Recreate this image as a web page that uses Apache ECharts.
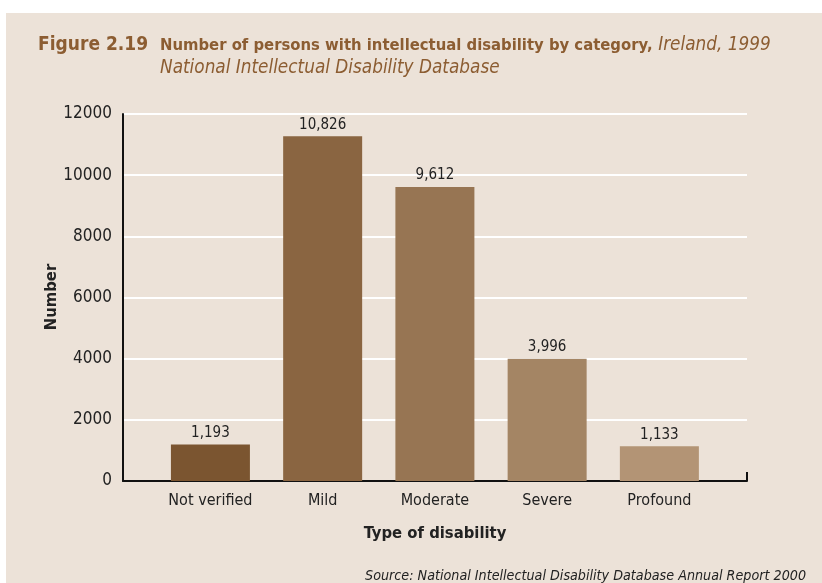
<!DOCTYPE html>
<html>
<head>
<meta charset="utf-8">
<script src="https://cdn.jsdelivr.net/npm/echarts@6/dist/echarts.min.js"></script>
<style>
  html, body { margin: 0; padding: 0; background: #ffffff; }
  #wrap { position: relative; width: 822px; height: 583px; background: #ffffff; overflow: hidden; }
  #bg { position: absolute; left: 6px; top: 13px; right: 0; bottom: 0; background: #ECE2D8; }
  #chart { position: absolute; left: 0; top: 0; width: 822px; height: 583px; }
</style>
</head>
<body>
<div id="wrap"><div id="bg"></div><div id="chart"></div></div>
<script>
// ---- data ----
const categories = ['Not verified', 'Mild', 'Moderate', 'Severe', 'Profound'];
// bar heights as drawn in the reference
const barHeights = [1193, 11270, 9612, 3996, 1133];
// value labels as printed in the reference
const valueLabels = ['1,193', '10,826', '9,612', '3,996', '1,133'];
const yTickValues = [0, 2000, 4000, 6000, 8000, 10000, 12000];

const barColors = ['#7B5530', '#8A6541', '#977553', '#A48564', '#B39475'];
const FONT = "'Liberation Sans Narrow', 'DejaVu Sans Condensed', 'Arial Narrow', 'Liberation Sans', sans-serif";
const TXT = '#222222';
const BROWN = '#8C5D32';

const chart = echarts.init(document.getElementById('chart'), null, { renderer: 'canvas' });

const option = {
  backgroundColor: 'transparent',
  animation: false,
  textStyle: { fontFamily: FONT },
  title: [
    {
      left: 33, top: 31,
      text: 'Figure 2.19',
      textStyle: { fontFamily: FONT, fontSize: 19, fontWeight: 'bold', color: BROWN }
    },
    {
      left: 155, top: 29,
      text: '{b|Number of persons with intellectual disability by category,} {i|Ireland, 1999}\n{i|National Intellectual Disability Database}',
      textStyle: {
        fontFamily: FONT,
        lineHeight: 23,
        rich: {
          b: { fontFamily: FONT, fontSize: 16.5, fontWeight: 'bold', color: BROWN, lineHeight: 23 },
          i: { fontFamily: FONT, fontSize: 18.8, fontStyle: 'italic', fontWeight: 'normal', color: BROWN, lineHeight: 23 }
        }
      }
    },
    {
      right: 11, top: 564,
      text: 'Source: National Intellectual Disability Database Annual Report 2000',
      textStyle: { fontFamily: FONT, fontSize: 14.2, fontStyle: 'italic', fontWeight: 'normal', color: TXT }
    }
  ],
  graphic: [
    {
      type: 'text',
      x: 52, y: 297,
      rotation: Math.PI / 2,
      style: {
        text: 'Number',
        x: 0, y: 0,
        align: 'center', verticalAlign: 'middle',
        textAlign: 'center', textVerticalAlign: 'middle',
        fontFamily: FONT, fontSize: 16.5, fontWeight: 'bold',
        fill: TXT
      }
    }
  ],
  grid: [
    { left: 123, right: 75, top: 114, bottom: 102, containLabel: false },
    { left: 154.3, right: 106.5, top: 114, bottom: 102, containLabel: false }
  ],
  xAxis: [
    {
      gridIndex: 0, type: 'value', min: 0, max: 1, interval: 1,
      axisLine: { show: true, lineStyle: { color: '#111', width: 2 } },
      axisTick: { show: true, inside: true, length: 9, lineStyle: { color: '#111', width: 2 } },
      axisLabel: { show: false },
      splitLine: { show: false },
      name: 'Type of disability',
      nameLocation: 'middle',
      nameGap: 44,
      nameTextStyle: { fontFamily: FONT, fontSize: 16.5, fontWeight: 'bold', color: TXT, verticalAlign: 'top' }
    },
    {
      gridIndex: 1, type: 'category', data: categories,
      axisLine: { show: false }, axisTick: { show: false },
      axisLabel: { interval: 0, fontFamily: FONT, fontSize: 16, color: TXT, margin: 12 }
    }
  ],
  yAxis: [
    {
      gridIndex: 0, type: 'value', min: 0, max: 12000, interval: 2000,
      axisLine: { show: true, lineStyle: { color: '#111', width: 2 } },
      axisTick: { show: false },
      splitLine: { show: true, lineStyle: { color: '#ffffff', width: 2 } },
      axisLabel: {
        fontFamily: FONT, fontSize: 17, color: TXT, margin: 11,
        formatter: v => (yTickValues.indexOf(v) >= 0 ? String(v) : '')
      }
    },
    {
      gridIndex: 1, type: 'value', min: 0, max: 12000, show: false
    }
  ],
  series: [
    {
      type: 'bar',
      xAxisIndex: 1, yAxisIndex: 1,
      barWidth: 79,
      data: barHeights.map((v, i) => ({ value: v, itemStyle: { color: barColors[i] } })),
      label: {
        show: true, position: 'top', distance: 4,
        fontFamily: FONT, fontSize: 15, color: TXT,
        formatter: p => valueLabels[p.dataIndex]
      },
      z: 3
    }
  ]
};
chart.setOption(option);
</script>
</body>
</html>
